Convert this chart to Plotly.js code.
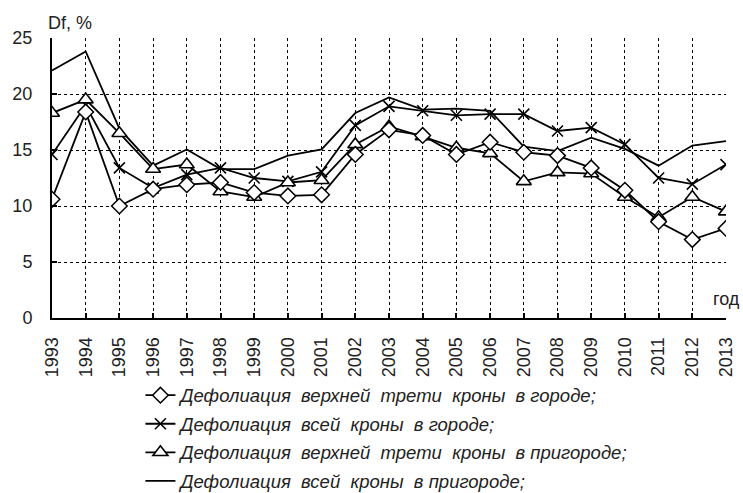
<!DOCTYPE html>
<html><head><meta charset="utf-8">
<script src="https://cdn.plot.ly/plotly-3.0.1.min.js"></script>
<style>html,body{margin:0;padding:0;background:#fff}#chart{width:743px;height:493px}</style>
</head><body><div id="chart"></div>
<script>
const years = [1993,1994,1995,1996,1997,1998,1999,2000,2001,2002,2003,2004,2005,2006,2007,2008,2009,2010,2011,2012,2013];
const upperCity = [10.6,18.4,10.0,11.5,11.9,12.1,11.2,10.9,11.0,14.6,16.8,16.3,14.6,15.7,14.8,14.5,13.4,11.4,8.6,7.0,8.0];
const wholeCity = [14.6,19.0,13.4,11.6,12.8,13.4,12.5,12.2,13.05,17.2,18.9,18.5,18.1,18.2,18.2,16.7,17.0,15.5,12.5,11.95,13.7];
const upperSuburb = [18.3,19.5,16.5,13.3,13.7,11.3,10.8,12.1,12.3,15.5,17.1,16.2,15.2,14.7,12.2,13.0,12.9,10.8,9.0,10.8,9.5];
const wholeSuburb = [22.1,23.8,16.9,13.6,15.05,13.3,13.3,14.5,15.05,18.3,19.7,18.6,18.7,18.5,15.3,14.9,16.1,15.1,13.6,15.4,15.8];
const names = [
  "Дефолиация\u00a0 верхней\u00a0 трети\u00a0 кроны\u00a0 в городе;",
  "Дефолиация\u00a0 всей\u00a0 кроны\u00a0 в городе;",
  "Дефолиация\u00a0 верхней\u00a0 трети\u00a0 кроны\u00a0 в пригороде;",
  "Дефолиация\u00a0 всей\u00a0 кроны\u00a0 в пригороде;"
];
const lineStyle = {color:'#000', width:1.8};
const traces = [
  {x:years, y:wholeSuburb, name:names[3], mode:'lines', line:lineStyle, legendrank:4, legendgroup:'d'},
  {x:years, y:wholeCity, name:names[1], mode:'lines+markers', line:lineStyle, legendrank:2, legendgroup:'b',
   marker:{symbol:'x-thin-open', size:11, color:'#000', line:{color:'#000', width:1.6}}},
  {x:years, y:upperSuburb, name:names[2], mode:'lines+markers', line:lineStyle, legendrank:3, legendgroup:'c',
   marker:{symbol:'triangle-up', size:13, color:'#fff', line:{color:'#000', width:1.6}}},
  {x:years, y:upperCity, name:names[0], mode:'lines+markers', line:lineStyle, legendrank:1, legendgroup:'a',
   marker:{symbol:'diamond', size:12, color:'#fff', line:{color:'#000', width:1.5}}}
];
const layout = {
  width:743, height:493,
  margin:{l:52, r:17, t:38, b:175, autoexpand:false},
  paper_bgcolor:'#fff', plot_bgcolor:'#fff',
  font:{family:'Liberation Sans, Arial, sans-serif', color:'#222'},
  showlegend:true,
  legend:{xref:'container', yref:'container', x:0.189, xanchor:'left', y:0.236, yanchor:'top', orientation:'v',
          font:{size:18.5, style:'italic', color:'#222'}, tracegroupgap:1.5, itemwidth:30,
          bgcolor:'rgba(0,0,0,0)'},
  xaxis:{range:[1993,2013], tickmode:'array', tickvals:years, ticktext:years.map(String),
         tickangle:-90, tickfont:{size:18, color:'#222'}, ticklabelstandoff:10,
         showgrid:true, gridcolor:'#000', griddash:'dot', gridwidth:1,
         showline:true, linecolor:'#000', linewidth:2, zeroline:false,
         ticks:'inside', ticklen:5, tickcolor:'#000', tickwidth:1.5},
  yaxis:{range:[0,25], dtick:5, tickfont:{size:18, color:'#222'}, ticklabelstandoff:14,
         showgrid:true, gridcolor:'#000', griddash:'dot', gridwidth:1,
         showline:true, linecolor:'#000', linewidth:2, zeroline:false,
         ticks:'inside', ticklen:5, tickcolor:'#000', tickwidth:1.5},
  annotations:[
    {text:'Df, %', xref:'paper', yref:'paper', x:-0.009, y:1.012, xanchor:'left', yanchor:'bottom',
     showarrow:false, font:{size:18, color:'#222'}},
    {text:'год', xref:'paper', yref:'paper', x:1.024, y:0.025, xanchor:'right', yanchor:'bottom',
     showarrow:false, font:{size:18, color:'#222'}, bgcolor:'#fff'}
  ]
};
Plotly.newPlot('chart', traces, layout, {displayModeBar:false});
</script></body></html>
